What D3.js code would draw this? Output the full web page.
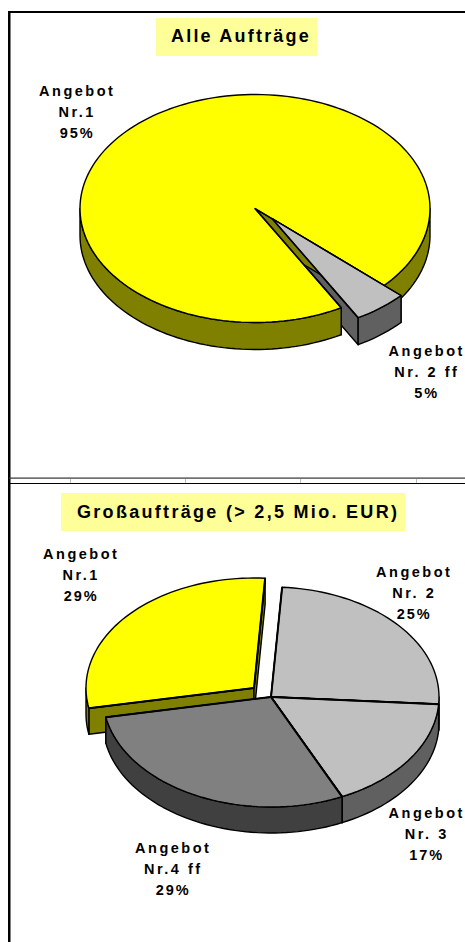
<!DOCTYPE html>
<html><head><meta charset="utf-8">
<script src="https://cdnjs.cloudflare.com/ajax/libs/d3/7.8.5/d3.min.js"></script>
<style>html,body{margin:0;padding:0;background:#fff;overflow:hidden}svg{display:block}
text{font-family:"Liberation Sans",Arial,sans-serif;font-weight:700;fill:#000}</style>
</head><body><svg id="c" width="465" height="942"></svg>
<script>
// --- data ---
const titleAll = "Alle Aufträge";
const titleLarge = "Großaufträge (> 2,5 Mio. EUR)";
const allNames = [["Angebot","Nr.1"],["Angebot","Nr. 2 ff"]];
const allValues = [95,5];
const largeNames = [["Angebot","Nr.1"],["Angebot","Nr. 2"],["Angebot","Nr. 3"],["Angebot","Nr.4 ff"]];
const largeValues = [29,25,17,29];
const frameTicks = [70,185,300,416];

// --- styles / layout ---
const rad = d => d*Math.PI/180;
const YEL={top:"#ffff00",wall:"#808000"}, LGT={top:"#c0c0c0",wall:"#606060"}, DRK={top:"#808080",wall:"#404040"};
const LABEL_SIZE=14.5, LABEL_TRACK=2.5, EDGE=1.4;
const svg = d3.select("#c");

function drawPie(cfg){
  const {values,names,cx,cy,rx,ry,depth,start,palette,offsets,steps,labels,radialW} = cfg;
  const arcs = d3.pie().sort(null).startAngle(rad(start)).endAngle(rad(start+360))(values);
  const xs = d3.scaleLinear().domain([-1,1]).range([cx-rx,cx+rx]);
  const ys = d3.scaleLinear().domain([-1,1]).range([cy-ry,cy+ry]);
  const line = d3.line();
  const g = svg.append("g");
  const face = (pts,fill)=>g.append("path").attr("d",line(pts)+"Z").attr("fill",fill)
    .attr("stroke","#000").attr("stroke-width",EDGE).attr("stroke-linejoin","round");
  const rim = (a0,a1,dx,dy,h=0)=>{
    const n=Math.max(2,Math.ceil((a1-a0)/rad(2))), pts=[];
    d3.range(n+1).forEach(i=>{const a=a0+(a1-a0)*i/n; pts.push([xs(Math.sin(a))+dx, ys(-Math.cos(a))+dy+h]);});
    return pts;
  };
  steps.forEach(([i,part])=>{
    const s=arcs[i], [dx,dy]=offsets[i], col=palette[i], a0=s.startAngle, a1=s.endAngle;
    const c=[cx+dx,cy+dy];
    if(part==="radial"){
      [a0,a1].forEach(a=>{
        const p=[xs(Math.sin(a))+dx, ys(-Math.cos(a))+dy];
        face([c,p,[p[0],p[1]+depth],[c[0],c[1]+depth]],col.wall);
      });
    }
    if(part==="outer"){
      for(let k=0;k<2;k++){
        const lo=Math.max(a0,rad(90+360*k)), hi=Math.min(a1,rad(270+360*k));
        if(hi>lo) face(rim(lo,hi,dx,dy).concat(rim(lo,hi,dx,dy,depth).reverse()),col.wall);
      }
    }
    if(part==="top"){
      face([c].concat(rim(a0,a1,dx,dy)),col.top);
      [a0,a1].forEach(a=>{
        g.append("path").attr("d",line([c,[xs(Math.sin(a))+dx, ys(-Math.cos(a))+dy]]))
          .attr("stroke","#000").attr("stroke-width",radialW).attr("fill","none");
      });
    }
  });
  values.forEach((v,i)=>{
    const L=labels[i];
    const rows=names[i].concat([v+"%"]);
    const t=svg.append("text").attr("text-anchor","middle").attr("font-size",LABEL_SIZE);
    rows.forEach((r,j)=>{
      t.append("tspan").attr("x",L[0]+LABEL_TRACK/2).attr("y",L[1]+j*21)
       .attr("letter-spacing",r.endsWith("%")?LABEL_TRACK*0.8:LABEL_TRACK).text(r);
    });
  });
}

// frame
svg.append("rect").attr("x",9).attr("y",11).attr("width",456).attr("height",2).attr("fill","#000");
svg.append("rect").attr("x",8).attr("y",11).attr("width",2.5).attr("height",931).attr("fill","#000");
svg.append("rect").attr("x",9).attr("y",477.5).attr("width",456).attr("height",1.2).attr("fill","#333");
svg.append("rect").attr("x",9).attr("y",483).attr("width",456).attr("height",1).attr("fill","#000");
svg.selectAll("rect.tick").data(frameTicks).join("rect").attr("class","tick")
  .attr("x",d=>d).attr("y",479).attr("width",1).attr("height",4).attr("fill","#bbb");

// title boxes
function title(txt,x,y,w,h,tx,ty,size,track){
  svg.append("rect").attr("x",x).attr("y",y).attr("width",w).attr("height",h).attr("fill","#ffff99");
  svg.append("text").attr("x",tx).attr("y",ty).attr("font-size",size).attr("letter-spacing",track).text(txt);
}
title(titleAll,156,18,161,38,171,42,18,2.2);
title(titleLarge,61,493,344,38,77,518,18,2.3);

drawPie({values:allValues,names:allNames,cx:255,cy:208.5,rx:175,ry:114,depth:27,start:150.5,
  palette:[YEL,LGT],offsets:[[0,0],[17,10]],
  steps:[[1,"radial"],[0,"radial"],[0,"outer"],[0,"top"],[1,"outer"],[1,"top"]],radialW:1.4,
  labels:[[76,96],[425.5,356]]});
drawPie({values:largeValues,names:largeNames,cx:271,cy:697,rx:168,ry:110,depth:26,start:259.4,
  palette:[YEL,LGT,LGT,DRK],offsets:[[-17,-9],[0,0],[0,0],[0,0]],
  steps:[0,1,2,3].flatMap(i=>[[i,"radial"],[i,"outer"],[i,"top"]]),radialW:2,
  labels:[[80,559],[413,577],[425.5,818],[172,853]]});
</script></body></html>
